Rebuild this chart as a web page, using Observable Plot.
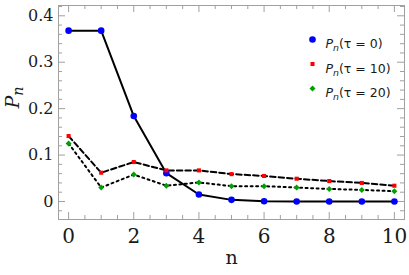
<!DOCTYPE html>
<html><head><meta charset="utf-8">
<script src="https://cdn.jsdelivr.net/npm/d3@7"></script>
<script src="https://cdn.jsdelivr.net/npm/@observablehq/plot@0.6"></script>
<style>body{margin:0;background:#fff} #chart{width:409px;height:275px}</style>
</head><body><div id="chart"></div>
<script>
const n = [0, 1, 2, 3, 4, 5, 6, 7, 8, 9, 10];
const p0 = [0.368, 0.368, 0.184, 0.061, 0.015, 0.0035, 0.0006, 0.0001, 0, 0, 0];
const p10 = [0.141, 0.062, 0.085, 0.067, 0.067, 0.059, 0.055, 0.049, 0.044, 0.040, 0.034];
const p20 = [0.125, 0.030, 0.058, 0.034, 0.041, 0.033, 0.033, 0.030, 0.027, 0.025, 0.022];
const seriesLabels = ["P|n|(τ = 0)", "P|n|(τ = 10)", "P|n|(τ = 20)"];
const yTickValues = [0, 0.1, 0.2, 0.3, 0.4];
const yMinorValues = [-0.02, 0.02, 0.04, 0.06, 0.08, 0.12, 0.14, 0.16, 0.18, 0.22, 0.24, 0.26, 0.28, 0.32, 0.34, 0.36, 0.38, 0.42];
const xTickValues = [0, 2, 4, 6, 8, 10];
const xMinorValues = [0.5, 1, 1.5, 2.5, 3, 3.5, 4.5, 5, 5.5, 6.5, 7, 7.5, 8.5, 9, 9.5];

const W = 409, H = 275, mL = 58, mR = 5, mT = 5, mB = 56;
const iw = W - mL - mR, ih = H - mT - mB;
const gray = "#a0a0a0";
const styles = [
  {values: p0, symbol: "circle", fill: "#0000ff", r: 3.3, dash: null, sw: 2},
  {values: p10, symbol: "square", fill: "#ff0000", r: 2.3, dash: "5.5,3", sw: 2},
  {values: p20, symbol: "diamond2", fill: "#00a000", r: 2.7, dash: "2,3.5", sw: 2}
];
const rows = s => n.map((k, i) => ({n: k, p: s.values[i]}));

const marks = [
  Plot.frame({stroke: gray}),
  Plot.tickY(yTickValues, {y: d => d, insetRight: iw - 7, stroke: gray}),
  Plot.tickY(yMinorValues, {y: d => d, insetRight: iw - 4, stroke: gray}),
  Plot.tickY(yTickValues, {y: d => d, insetLeft: iw - 7, stroke: gray}),
  Plot.tickY(yMinorValues, {y: d => d, insetLeft: iw - 4, stroke: gray}),
  Plot.tickX(xTickValues, {x: d => d, insetTop: ih - 7, stroke: gray}),
  Plot.tickX(xMinorValues, {x: d => d, insetTop: ih - 4, stroke: gray}),
  Plot.tickX(xTickValues, {x: d => d, insetBottom: ih - 7, stroke: gray}),
  Plot.tickX(xMinorValues, {x: d => d, insetBottom: ih - 4, stroke: gray}),
  Plot.axisY({ticks: yTickValues, tickSize: 0, tickPadding: 5, label: null,
    tickFormat: d => d === 0 ? "0" : d.toFixed(1), fontSize: 16, fill: "#1a1a1a"}),
  Plot.axisX({ticks: xTickValues, tickSize: 0, tickPadding: 9, label: null,
    tickFormat: d => String(d), fontSize: 20, fill: "#1a1a1a"}),
  Plot.text(["n"], {x: null, y: null, frameAnchor: "bottom", dy: 44, fontSize: 19, fill: "#1a1a1a"}),
  Plot.text(["P|n|"], {x: null, y: null, frameAnchor: "left", dx: -46, dy: -4, rotate: -90,
    fontSize: 19, fill: "#1a1a1a", className: "rich"})
];
styles.forEach(s => {
  marks.push(Plot.line(rows(s), {x: "n", y: "p", stroke: "black", strokeWidth: s.sw,
    strokeDasharray: s.dash}));
});
styles.forEach(s => {
  marks.push(Plot.dot(rows(s), {x: "n", y: "p", symbol: s.symbol, fill: s.fill, r: s.r, stroke: null}));
});
styles.forEach((s, i) => {
  const dy = 34 + i * 24.5;
  marks.push(Plot.dot([0], {x: null, y: null, frameAnchor: "top-right", dx: -92, dy,
    symbol: s.symbol, fill: s.fill, r: s.r}));
  marks.push(Plot.text([seriesLabels[i]], {x: null, y: null, frameAnchor: "top-right", dx: -79, dy,
    textAnchor: "start", fontFamily: "DejaVu Sans", fontSize: 12.5, fill: "#1a1a1a", className: "rich"}));
});

const chart = Plot.plot({
  width: W, height: H,
  marginLeft: mL, marginRight: mR, marginTop: mT, marginBottom: mB,
  style: {fontFamily: "DejaVu Serif", background: "#fff", overflow: "visible"},
  x: {domain: [-0.31, 10.31]},
  y: {domain: [-0.0388, 0.4222]},
  marks
});

const ns = "http://www.w3.org/2000/svg";
chart.querySelectorAll("g.rich text").forEach(t => {
  const [a, b, c] = t.textContent.split("|");
  t.textContent = "";
  const s1 = document.createElementNS(ns, "tspan");
  s1.setAttribute("font-style", "italic"); s1.textContent = a;
  const s2 = document.createElementNS(ns, "tspan");
  s2.setAttribute("font-style", "italic"); s2.setAttribute("font-size", "0.75em");
  s2.setAttribute("dy", "0.3em"); s2.textContent = b;
  t.appendChild(s1); t.appendChild(s2);
  if (c) {
    const s3 = document.createElementNS(ns, "tspan");
    s3.setAttribute("dy", "-0.22em"); s3.textContent = c;
    t.appendChild(s3);
  }
});
document.getElementById("chart").appendChild(chart);
</script>
</body></html>
